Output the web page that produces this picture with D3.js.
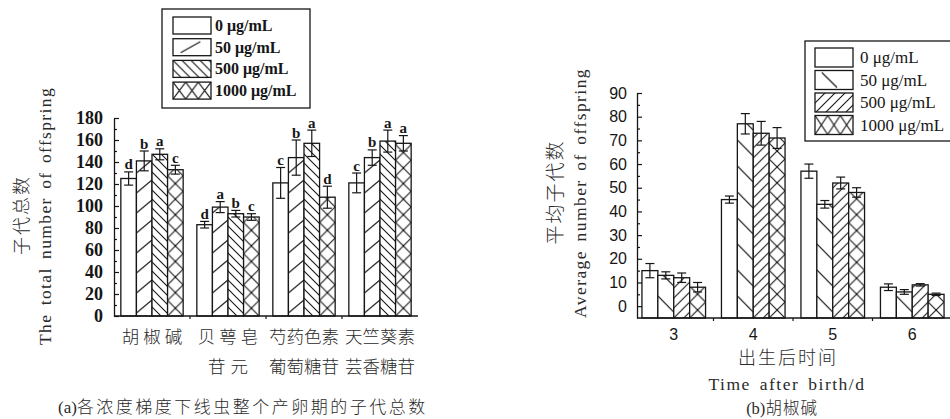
<!DOCTYPE html>
<html>
<head>
<meta charset="utf-8">
<script src="https://cdn.jsdelivr.net/npm/d3@7"></script>
<style>
  html, body { margin: 0; padding: 0; background: #fff; }
  svg { display: block; }
</style>
</head>
<body>
<svg id="fig" width="950" height="419"></svg>
<script>
// ---- shared series (nematicide concentrations) ----
const concentrations = ["0 μg/mL", "50 μg/mL", "500 μg/mL", "1000 μg/mL"];

// ---- panel (a): total offspring over the whole egg-laying period ----
const compoundsA = [["胡椒碱"], ["贝萼皂", "苷元"], ["芍药色素", "葡萄糖苷"], ["天竺葵素", "芸香糖苷"]];
const totalMean = [
  [125, 141, 147, 133],
  [83, 99, 93, 90],
  [121, 144, 157, 108],
  [121, 144, 159, 157]
];
const totalErr = [
  [6, 9, 5, 4],
  [3, 5, 3, 3],
  [14, 16, 12, 10],
  [9, 7, 10, 7]
];
const totalLetters = [
  ["d", "b", "a", "c"],
  ["d", "a", "b", "c"],
  ["c", "b", "a", "d"],
  ["c", "b", "a", "a"]
];
const ticksA = [0, 20, 40, 60, 80, 100, 120, 140, 160, 180];
const minorTicksA = [10, 30, 50, 70, 90, 110, 130, 150, 170];

// ---- panel (b): piperine, mean offspring per day after birth ----
const days = ["3", "4", "5", "6"];
const dailyMean = [
  [15, 13, 12, 8],
  [45, 77, 73, 71],
  [57, 43, 52, 48],
  [8, 6, 9, 5]
];
const dailyErr = [
  [3, 1.5, 2, 2],
  [1.5, 4.3, 5, 4.4],
  [3, 1.6, 2.5, 2],
  [1.4, 1, 0.5, 0.5]
];
const ticksB = [0, 10, 20, 30, 40, 50, 60, 70, 80, 90];
const minorTicksB = [5, 15, 25, 35, 45, 55, 65, 75, 85];

// ---- drawing ----
const INK = "#161616";
const TXT = "#2a2a2a";
const SERIF = "'Liberation Serif', 'Times New Roman', serif";
const SANS = "'Liberation Sans', Arial, sans-serif";
const CJK = "'Noto Sans CJK SC', sans-serif";

const svg = d3.select("#fig");
const defs = svg.append("defs");
let patternCount = 0;

// Hatch fill anchored at (x0, y0); kinds mimic the print-style fills of each series.
function hatch(kind, x0, y0, w, h) {
  if (kind === "none") return "#fff";
  const id = "h" + (patternCount++);
  let tw, th, d, dot = null;
  switch (kind) {
    case "sparseSlash":      // long "/" strokes across the whole bar
      tw = w; th = 20; d = `M0,${th - 3}L${tw},4`; break;
    case "sparseBackslash":  // long "\" strokes across the whole bar
      tw = w; th = 26; d = `M0,4L${tw},20`; break;
    case "backslash":
      tw = 9; th = 9; d = "M0,0L9,9M-2,7L2,11M7,-2L11,2"; break;
    case "slash":
      tw = 10; th = 10; d = "M0,10L10,0M-2,2L2,-2M8,12L12,8"; break;
    case "cross":
      tw = w; th = w; d = `M0,0L${tw},${th}M${tw},0L0,${th}`; dot = [tw / 2, th / 2]; break;
    case "legendSlash":
      tw = w; th = h; d = `M${w * 0.2},${h - 3}L${w * 0.72},3`; break;
    case "legendBackslash":
      tw = w; th = h; d = `M${w * 0.18},2L${w * 0.58},${h - 2}`; break;
    case "legendCross":
      tw = w / 3; th = h; d = `M0,0L${tw},${th}M${tw},0L0,${th}`; break;
  }
  const p = defs.append("pattern")
    .attr("id", id)
    .attr("patternUnits", "userSpaceOnUse")
    .attr("x", x0).attr("y", y0)
    .attr("width", tw).attr("height", th);
  p.append("rect").attr("width", tw).attr("height", th).attr("fill", "#fff");
  p.append("path").attr("d", d).attr("fill", "none")
    .attr("stroke", INK).attr("stroke-width", 1.1);
  if (dot) p.append("circle").attr("cx", dot[0]).attr("cy", dot[1]).attr("r", 1.1).attr("fill", INK);
  return `url(#${id})`;
}

// Open up a line of text (letters a little, word gaps more) so it spans a given length.
function spreadText(sel, target) {
  const node = sel.node();
  const natural = node.getComputedTextLength();
  const chars = node.textContent.length;
  const gaps = (node.textContent.match(/ /g) || []).length;
  if (natural < target) {
    const ls = (target - natural) / (chars + 2 * gaps);
    sel.attr("letter-spacing", ls).attr("word-spacing", 2 * ls);
  }
  return sel;
}

function drawBars(g, means, errs, xOuter, xInner, y, base, kinds, capHalf) {
  means.forEach((row, i) => {
    const key = xOuter.domain()[i];
    const grp = g.append("g");
    grp.selectAll("rect")
      .data(row)
      .join("rect")
      .attr("x", (v, j) => xOuter(key) + xInner(j))
      .attr("width", xInner.bandwidth())
      .attr("y", v => y(v))
      .attr("height", v => y(base) - y(v))
      .attr("fill", (v, j) => hatch(kinds[j], xOuter(key) + xInner(j), y(base), xInner.bandwidth()))
      .attr("stroke", INK)
      .attr("stroke-width", 1.3);

    const eb = grp.selectAll("g.err")
      .data(row.map((v, j) => ({ v, e: errs[i][j], j })))
      .join("g").attr("class", "err");
    const cx = d => xOuter(key) + xInner(d.j) + xInner.bandwidth() / 2;
    eb.append("line")
      .attr("x1", cx).attr("x2", cx)
      .attr("y1", d => y(d.v - d.e)).attr("y2", d => y(d.v + d.e));
    eb.append("line")
      .attr("x1", d => cx(d) - capHalf).attr("x2", d => cx(d) + capHalf)
      .attr("y1", d => y(d.v + d.e)).attr("y2", d => y(d.v + d.e));
    eb.append("line")
      .attr("x1", d => cx(d) - capHalf).attr("x2", d => cx(d) + capHalf)
      .attr("y1", d => y(d.v - d.e)).attr("y2", d => y(d.v - d.e));
    eb.selectAll("line").attr("stroke", INK).attr("stroke-width", 1.2);
  });
}

function drawLegend(g, box, sw, pitch, kinds, textX, font) {
  g.append("rect")
    .attr("x", box.x).attr("y", box.y).attr("width", box.w).attr("height", box.h)
    .attr("fill", "#fff").attr("stroke", INK).attr("stroke-width", 1.3);
  const items = g.selectAll("g.item").data(concentrations).join("g").attr("class", "item");
  items.append("rect")
    .attr("x", sw.x).attr("y", (d, i) => sw.y + i * pitch)
    .attr("width", sw.w).attr("height", sw.h)
    .attr("fill", (d, i) => hatch(kinds[i], sw.x, sw.y + i * pitch, sw.w, sw.h))
    .attr("stroke", INK).attr("stroke-width", 1.3);
  items.append("text")
    .attr("x", textX).attr("y", (d, i) => sw.y + i * pitch + sw.h / 2 + 5.5)
    .attr("font-family", SERIF).attr("font-size", font.size).attr("font-weight", font.weight)
    .attr("fill", INK)
    .text(d => d);
}

// ================= panel (a) =================
const gA = svg.append("g");
const xA = d3.scaleBand()
  .domain(compoundsA.map(d => d.join("")))
  .range([114, 418])
  .paddingInner(0.18)
  .paddingOuter(0.09);
const xInA = d3.scaleBand().domain(d3.range(concentrations.length)).range([0, xA.bandwidth()]);
const yA = d3.scaleLinear().domain([0, 180]).range([316, 118]);

drawBars(gA, totalMean, totalErr, xA, xInA, yA, 0,
  ["none", "sparseSlash", "backslash", "cross"], 4.5);

// significance letters
totalMean.forEach((row, i) => {
  const key = xA.domain()[i];
  gA.append("g").selectAll("text")
    .data(row)
    .join("text")
    .attr("x", (v, j) => xA(key) + xInA(j) + xInA.bandwidth() / 2)
    .attr("y", (v, j) => yA(v + totalErr[i][j]) - 2.5)
    .attr("text-anchor", "middle")
    .attr("font-family", SERIF).attr("font-weight", "bold").attr("font-size", 15)
    .attr("fill", INK)
    .text((v, j) => totalLetters[i][j]);
});

// y axis, inward ticks
const axA = gA.append("g").attr("transform", `translate(${xA.range()[0]},0)`)
  .call(d3.axisLeft(yA).tickValues(ticksA).tickSize(-5).tickSizeOuter(0).tickPadding(11).tickFormat(d3.format("d")));
axA.select(".domain").attr("stroke", INK).attr("stroke-width", 1.3);
axA.selectAll(".tick line").attr("stroke", INK).attr("stroke-width", 1.2);
axA.selectAll(".tick text")
  .attr("font-family", SERIF).attr("font-weight", "bold").attr("font-size", 18).attr("fill", INK);
const axAm = gA.append("g").attr("transform", `translate(${xA.range()[0]},0)`)
  .call(d3.axisLeft(yA).tickValues(minorTicksA).tickSize(-3).tickFormat(""));
axAm.select(".domain").remove();
axAm.selectAll(".tick line").attr("stroke", INK).attr("stroke-width", 1.2);

// x axis baseline with separators between groups
gA.append("line")
  .attr("x1", xA.range()[0]).attr("x2", xA.range()[1])
  .attr("y1", yA(0)).attr("y2", yA(0))
  .attr("stroke", INK).attr("stroke-width", 1.3);
gA.selectAll("line.sep")
  .data(xA.domain().slice(1))
  .join("line").attr("class", "sep")
  .attr("x1", d => xA(d) - xA.step() * xA.paddingInner() / 2)
  .attr("x2", d => xA(d) - xA.step() * xA.paddingInner() / 2)
  .attr("y1", yA(0)).attr("y2", yA(0) + 3)
  .attr("stroke", INK).attr("stroke-width", 1.2);

// category labels (two lines where needed)
compoundsA.forEach(lines => {
  const cx = xA(lines.join("")) + xA.bandwidth() / 2;
  lines.forEach((txt, k) => {
    const ls = txt.length >= 4 ? 0 : (txt.length === 3 ? 4 : 5);
    gA.append("text")
      .attr("x", cx + ls / 2).attr("y", 343 + k * 30)
      .attr("text-anchor", "middle")
      .attr("font-family", CJK).attr("font-size", 17.5).attr("font-weight", 300)
      .attr("letter-spacing", ls)
      .attr("fill", TXT)
      .text(txt);
  });
});

// y titles
gA.append("text")
  .attr("transform", "translate(20,215) rotate(-90)")
  .attr("text-anchor", "middle").attr("dominant-baseline", "central")
  .attr("font-family", CJK).attr("font-size", 18).attr("font-weight", 300).attr("letter-spacing", 2)
  .attr("fill", TXT)
  .text("子代总数");
spreadText(gA.append("text")
  .attr("transform", "translate(45,216) rotate(-90)")
  .attr("text-anchor", "middle").attr("dominant-baseline", "central")
  .attr("font-family", SERIF).attr("font-size", 17.5)
  .attr("fill", TXT)
  .text("The total number of offspring"), 258);

// caption
const capA = gA.append("text").attr("x", 58).attr("y", 413).attr("fill", TXT).attr("font-size", 17);
capA.append("tspan").attr("font-family", SERIF).text("(a)");
capA.append("tspan").attr("font-family", CJK).attr("font-weight", 300).attr("letter-spacing", 2.5)
  .text("各浓度梯度下线虫整个产卵期的子代总数");

drawLegend(gA.append("g"), { x: 162, y: 9, w: 148, h: 99 }, { x: 173, y: 17, w: 38, h: 17 }, 21.7,
  ["none", "legendSlash", "backslash", "legendCross"], 215, { size: 16, weight: "bold" });

// ================= panel (b) =================
const gB = svg.append("g");
const xB = d3.scaleBand()
  .domain(days)
  .range([634, 952])
  .paddingInner(0.2)
  .paddingOuter(0.1);
const xInB = d3.scaleBand().domain(d3.range(concentrations.length)).range([0, xB.bandwidth()]);
const yB = d3.scaleLinear().domain([-5, 90]).range([318, 93]);

drawBars(gB, dailyMean, dailyErr, xB, xInB, yB, -5,
  ["none", "sparseBackslash", "slash", "cross"], 4.5);

const axB = gB.append("g").attr("transform", "translate(637,0)")
  .call(d3.axisLeft(yB).tickValues(ticksB).tickSize(-5).tickSizeOuter(0).tickPadding(10));
axB.select(".domain").attr("stroke", INK).attr("stroke-width", 1.3);
axB.selectAll(".tick line").attr("stroke", INK).attr("stroke-width", 1.2);
axB.selectAll(".tick text")
  .attr("font-family", SANS).attr("font-size", 16).attr("fill", INK);
const axBm = gB.append("g").attr("transform", "translate(637,0)")
  .call(d3.axisLeft(yB).tickValues(minorTicksB).tickSize(-3).tickFormat(""));
axBm.select(".domain").remove();
axBm.selectAll(".tick line").attr("stroke", INK).attr("stroke-width", 1.2);

gB.append("line")
  .attr("x1", 637).attr("x2", 950)
  .attr("y1", yB(-5)).attr("y2", yB(-5))
  .attr("stroke", INK).attr("stroke-width", 1.3);
gB.selectAll("line.sep")
  .data(days.slice(1))
  .join("line").attr("class", "sep")
  .attr("x1", d => xB(d) - xB.step() * xB.paddingInner() / 2)
  .attr("x2", d => xB(d) - xB.step() * xB.paddingInner() / 2)
  .attr("y1", yB(-5)).attr("y2", yB(-5) + 3)
  .attr("stroke", INK).attr("stroke-width", 1.2);

const axBx = gB.append("g").attr("transform", `translate(0,${yB(-5)})`)
  .call(d3.axisBottom(xB).tickSize(0).tickPadding(11));
axBx.select(".domain").remove();
axBx.selectAll(".tick text").attr("font-family", SANS).attr("font-size", 16).attr("fill", INK);

gB.append("text")
  .attr("transform", "translate(553,192) rotate(-90)")
  .attr("text-anchor", "middle").attr("dominant-baseline", "central")
  .attr("font-family", CJK).attr("font-size", 19).attr("font-weight", 300).attr("letter-spacing", 2)
  .attr("fill", TXT)
  .text("平均子代数");
spreadText(gB.append("text")
  .attr("transform", "translate(580,193) rotate(-90)")
  .attr("text-anchor", "middle").attr("dominant-baseline", "central")
  .attr("font-family", SERIF).attr("font-size", 17.5)
  .attr("fill", TXT)
  .text("Average number of offspring"), 250);

gB.append("text")
  .attr("x", 788).attr("y", 364).attr("text-anchor", "middle")
  .attr("font-family", CJK).attr("font-size", 18).attr("font-weight", 300).attr("letter-spacing", 2)
  .attr("fill", TXT)
  .text("出生后时间");
spreadText(gB.append("text")
  .attr("x", 787).attr("y", 390).attr("text-anchor", "middle")
  .attr("font-family", SERIF).attr("font-size", 17.5)
  .attr("fill", TXT)
  .text("Time after birth/d"), 157);
const capB = gB.append("text").attr("x", 782).attr("y", 414).attr("text-anchor", "middle")
  .attr("fill", TXT).attr("font-size", 16.5);
capB.append("tspan").attr("font-family", SERIF).text("(b)");
capB.append("tspan").attr("font-family", CJK).attr("font-weight", 300).attr("letter-spacing", 1)
  .text("胡椒碱");

drawLegend(gB.append("g"), { x: 805, y: 41, w: 150, h: 100 }, { x: 815, y: 48, w: 38, h: 19 }, 22.5,
  ["none", "legendBackslash", "slash", "legendCross"], 860, { size: 17, weight: "normal" });
</script>
</body>
</html>
